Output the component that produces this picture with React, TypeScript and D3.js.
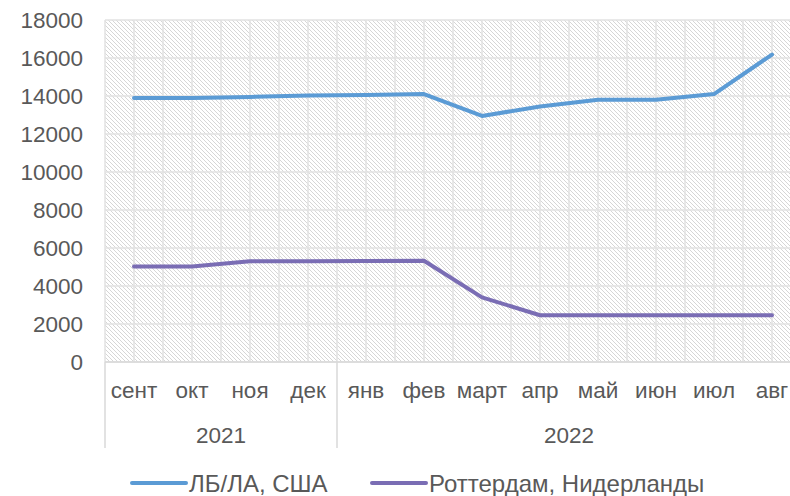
import { useEffect, useRef } from 'react'
import * as d3 from 'd3'

const MONTHS = ['сент', 'окт', 'ноя', 'дек', 'янв', 'фев', 'март', 'апр', 'май', 'июн', 'июл', 'авг']
const YEARS = [
  { label: '2021', from: 0, to: 4 },
  { label: '2022', from: 4, to: 12 },
]
const LA_USA = [13900, 13900, 13950, 14020, 14050, 14100, 12950, 13450, 13800, 13800, 14100, 16180]
const ROTTERDAM = [5030, 5030, 5300, 5300, 5310, 5330, 3400, 2460, 2460, 2460, 2460, 2460]
const SERIES = [
  { name: 'ЛБ/ЛА, США', values: LA_USA, color: '#5B9BD5' },
  { name: 'Роттердам, Нидерланды', values: ROTTERDAM, color: '#7A6DB4' },
]
const Y_TICKS = [0, 2000, 4000, 6000, 8000, 10000, 12000, 14000, 16000, 18000]

const W = 790
const H = 496
const FONT = '"Liberation Sans", Arial, sans-serif'
const TEXT = '#595959'

export default function App() {
  const svgRef = useRef<SVGSVGElement>(null)

  useEffect(() => {
    document.body.style.margin = '0'
    const svg = d3.select(svgRef.current)
    svg.selectAll('*').remove()

    const left = 105, right = 801, top = 20, bottom = 362
    const x = d3.scaleBand<number>().domain(d3.range(MONTHS.length)).range([left, right])
    const y = d3.scaleLinear().domain([0, 18000]).range([bottom, top])
    const cx = (i: number) => (x(i) ?? 0) + x.bandwidth() / 2

    const defs = svg.append('defs')
    const pat = defs.append('pattern').attr('id', 'hatch').attr('patternUnits', 'userSpaceOnUse')
      .attr('width', 4).attr('height', 4)
    pat.append('rect').attr('width', 4).attr('height', 4).attr('fill', '#ffffff')
    pat.append('path').attr('d', 'M-1,-1 L5,5 M-1,3 L1,5 M3,-1 L5,1')
      .attr('stroke', '#d6d6d6').attr('stroke-width', 1)

    svg.append('rect').attr('x', left).attr('y', top).attr('width', right - left).attr('height', bottom - top)
      .attr('fill', 'url(#hatch)')

    // gridlines
    const grid = svg.append('g').attr('stroke', '#e2e2e2').attr('stroke-width', 1.5)
    Y_TICKS.forEach((t) => {
      grid.append('line').attr('x1', left).attr('x2', right).attr('y1', y(t)).attr('y2', y(t))
    })
    d3.range(MONTHS.length * 2 + 1).forEach((k) => {
      const xv = left + (k * x.bandwidth()) / 2
      grid.append('line').attr('x1', xv).attr('x2', xv).attr('y1', top).attr('y2', bottom)
    })

    // axis line
    svg.append('line').attr('x1', left).attr('x2', right).attr('y1', bottom).attr('y2', bottom)
      .attr('stroke', '#d9d9d9').attr('stroke-width', 1.5)

    // y labels
    svg.append('g').selectAll('text').data(Y_TICKS).join('text')
      .attr('x', 83).attr('y', (d) => y(d) + 8).attr('text-anchor', 'end')
      .attr('font-family', FONT).attr('font-size', 22.5).attr('fill', TEXT).text((d) => d)

    // month labels
    svg.append('g').selectAll('text').data(MONTHS).join('text')
      .attr('x', (_d, i) => cx(i)).attr('y', 398).attr('text-anchor', 'middle')
      .attr('font-family', FONT).attr('font-size', 22.5).attr('fill', TEXT).text((d) => d)

    // year groups
    const yg = svg.append('g')
    YEARS.forEach((yr) => {
      const x0 = x(yr.from) ?? 0
      const x1 = yr.to < MONTHS.length ? (x(yr.to) ?? 0) : right
      yg.append('text').attr('x', (x0 + x1) / 2).attr('y', 443).attr('text-anchor', 'middle')
        .attr('font-family', FONT).attr('font-size', 22.5).attr('fill', TEXT).text(yr.label)
    })
    YEARS.forEach((yr) => {
      const xv = x(yr.from) ?? 0
      yg.append('line').attr('x1', xv).attr('x2', xv).attr('y1', bottom).attr('y2', 448)
        .attr('stroke', '#d9d9d9').attr('stroke-width', 1.5)
    })

    // series
    const line = d3.line<number>().x((_d, i) => cx(i)).y((d) => y(d))
    SERIES.forEach((s) => {
      svg.append('path').datum(s.values).attr('d', line).attr('fill', 'none')
        .attr('stroke', s.color).attr('stroke-width', 4).attr('stroke-linejoin', 'round')
        .attr('stroke-linecap', 'round')
    })

    // legend
    const legendX = [132, 372]
    SERIES.forEach((s, i) => {
      const g = svg.append('g').attr('transform', `translate(${legendX[i]},483)`)
      g.append('line').attr('x1', 0).attr('x2', 54).attr('stroke', s.color).attr('stroke-width', 4)
        .attr('stroke-linecap', 'round')
      g.append('text').attr('x', 57).attr('y', 9).attr('font-family', FONT).attr('font-size', 24)
        .attr('fill', TEXT).text(s.name)
    })
  }, [])

  return (
    <svg ref={svgRef} width={W} height={H}
      style={{ display: 'block', position: 'fixed', left: 0, top: 0, background: '#fff' }} />
  )
}
